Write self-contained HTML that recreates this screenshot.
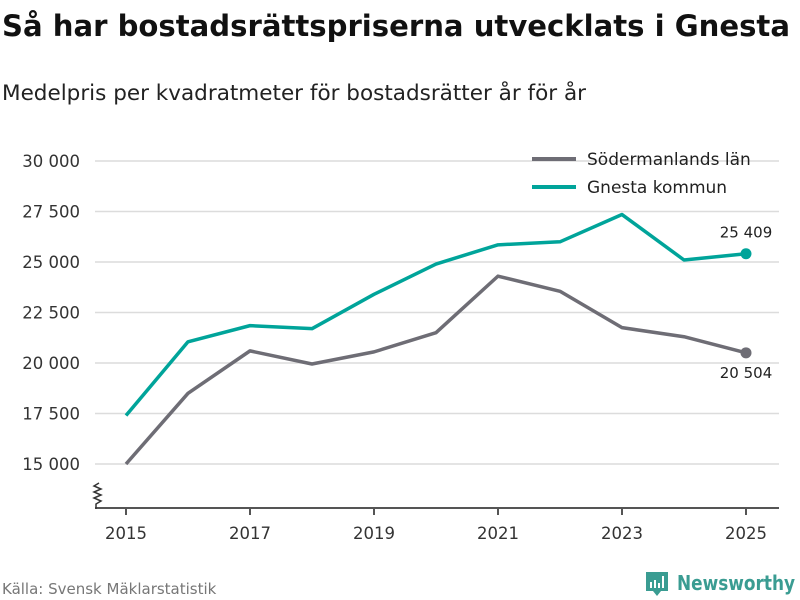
<!DOCTYPE html>
<html><head><meta charset="utf-8"><style>
body{margin:0;background:#fff;font-family:"Liberation Sans","DejaVu Sans",sans-serif;}
svg{display:block}
</style></head><body>
<svg width="800" height="600" xmlns="http://www.w3.org/2000/svg">
<text x="2" y="36" font-size="29" font-weight="bold" fill="#111" font-family="DejaVu Sans,sans-serif" textLength="788" lengthAdjust="spacingAndGlyphs">Så har bostadsrättspriserna utvecklats i Gnesta</text>
<text x="2" y="100" font-size="21" fill="#222" font-family="DejaVu Sans,sans-serif" textLength="584" lengthAdjust="spacingAndGlyphs">Medelpris per kvadratmeter för bostadsrätter år för år</text>
<g id="grid"></g>
<g id="yt" font-size="16.5" fill="#333" text-anchor="end" font-family="DejaVu Sans,sans-serif"></g>
<line x1="95" y1="508" x2="779" y2="508" stroke="#555" stroke-width="2"/>
<path d="M99,483 l-5,3 l7,3 l-7,3 l7,3 l-7,3 l7,3 l-5,3 v5" fill="none" stroke="#333" stroke-width="1.5"/>
<g id="xt" font-size="16.5" fill="#333" text-anchor="middle" font-family="DejaVu Sans,sans-serif"></g>
<g id="series"></g>
<g font-size="17" fill="#222" font-family="DejaVu Sans,sans-serif">
<line x1="532" y1="159" x2="576" y2="159" stroke="#6e6d75" stroke-width="4"/>
<text x="587" y="165">Södermanlands län</text>
<line x1="532" y1="187" x2="576" y2="187" stroke="#00a49a" stroke-width="4"/>
<text x="587" y="193">Gnesta kommun</text>
</g>
<text x="2" y="594" font-size="15" fill="#777" font-family="DejaVu Sans,sans-serif">Källa: Svensk Mäklarstatistik</text>
<g>
<path d="M646,572 h22 v19 h-7 l-4,5 l-4,-5 h-7 z" fill="#3a9c92"/>
<rect x="650" y="582" width="2" height="6" fill="#fff"/><rect x="654" y="580" width="2" height="8" fill="#fff"/><rect x="658" y="583" width="2" height="5" fill="#fff"/><rect x="662" y="576" width="2" height="12" fill="#fff"/>
<text x="677" y="590" font-size="20" font-weight="bold" fill="#3a9c92" font-family="DejaVu Sans,sans-serif" textLength="118" lengthAdjust="spacingAndGlyphs">Newsworthy</text>
</g>
</svg>
<script>
const years=[2015,2016,2017,2018,2019,2020,2021,2022,2023,2024,2025];
const sodermanland=[15000,18500,20600,19950,20550,21500,24300,23550,21750,21300,20504];
const gnesta=[17400,21050,21850,21700,23400,24900,25850,26000,27350,25100,25409];
const yTicks=[15000,17500,20000,22500,25000,27500,30000];
const yTickLabels=["15 000","17 500","20 000","22 500","25 000","27 500","30 000"];
const xTicks=[2015,2017,2019,2021,2023,2025];
const NS="http://www.w3.org/2000/svg";
function X(y){return 126+(y-2015)*62;}
function Y(v){return 464-(v-15000)*303/15000;}
function mk(t,a,p){const e=document.createElementNS(NS,t);for(const k in a)e.setAttribute(k,a[k]);p.appendChild(e);return e;}
const grid=document.getElementById('grid'),yt=document.getElementById('yt'),xt=document.getElementById('xt'),ser=document.getElementById('series');
yTicks.forEach((v,i)=>{
 const l=mk('line',{x1:95,x2:779,y1:Y(v),y2:Y(v),stroke:'#dcdcdc','stroke-width':1.5},grid);
 
 
 const t=mk('text',{x:80,y:Y(v)+6},yt);t.textContent=yTickLabels[i];
 
 
});
xTicks.forEach(y=>{
 const l=mk('line',{x1:X(y),x2:X(y),y1:508,y2:515,stroke:'#555','stroke-width':2},xt);
 
 
 const t=mk('text',{x:X(y),y:539},xt);t.textContent=y;
 
 
});
function line(vals,col,name,lblDy){
 const p=mk('polyline',{points:vals.map((v,i)=>X(years[i])+','+Y(v)).join(' '),fill:'none',stroke:col,'stroke-width':3.5,'stroke-linejoin':'round'},ser);
 
 
 const n=vals.length-1;
 const c=mk('circle',{cx:X(years[n]),cy:Y(vals[n]),r:5.5,fill:col},ser);
 
 
 const t=mk('text',{x:X(years[n]),y:Y(vals[n])+lblDy,'text-anchor':'middle','font-size':15,fill:'#222','font-family':'DejaVu Sans,sans-serif'},ser);
 t.textContent=Math.round(vals[n]).toString().replace(/\B(?=(\d{3})+$)/g,' ');
 
 
}
line(sodermanland,'#6e6d75','sodermanland',25);
line(gnesta,'#00a49a','gnesta',-16);
</script>
</body></html>
